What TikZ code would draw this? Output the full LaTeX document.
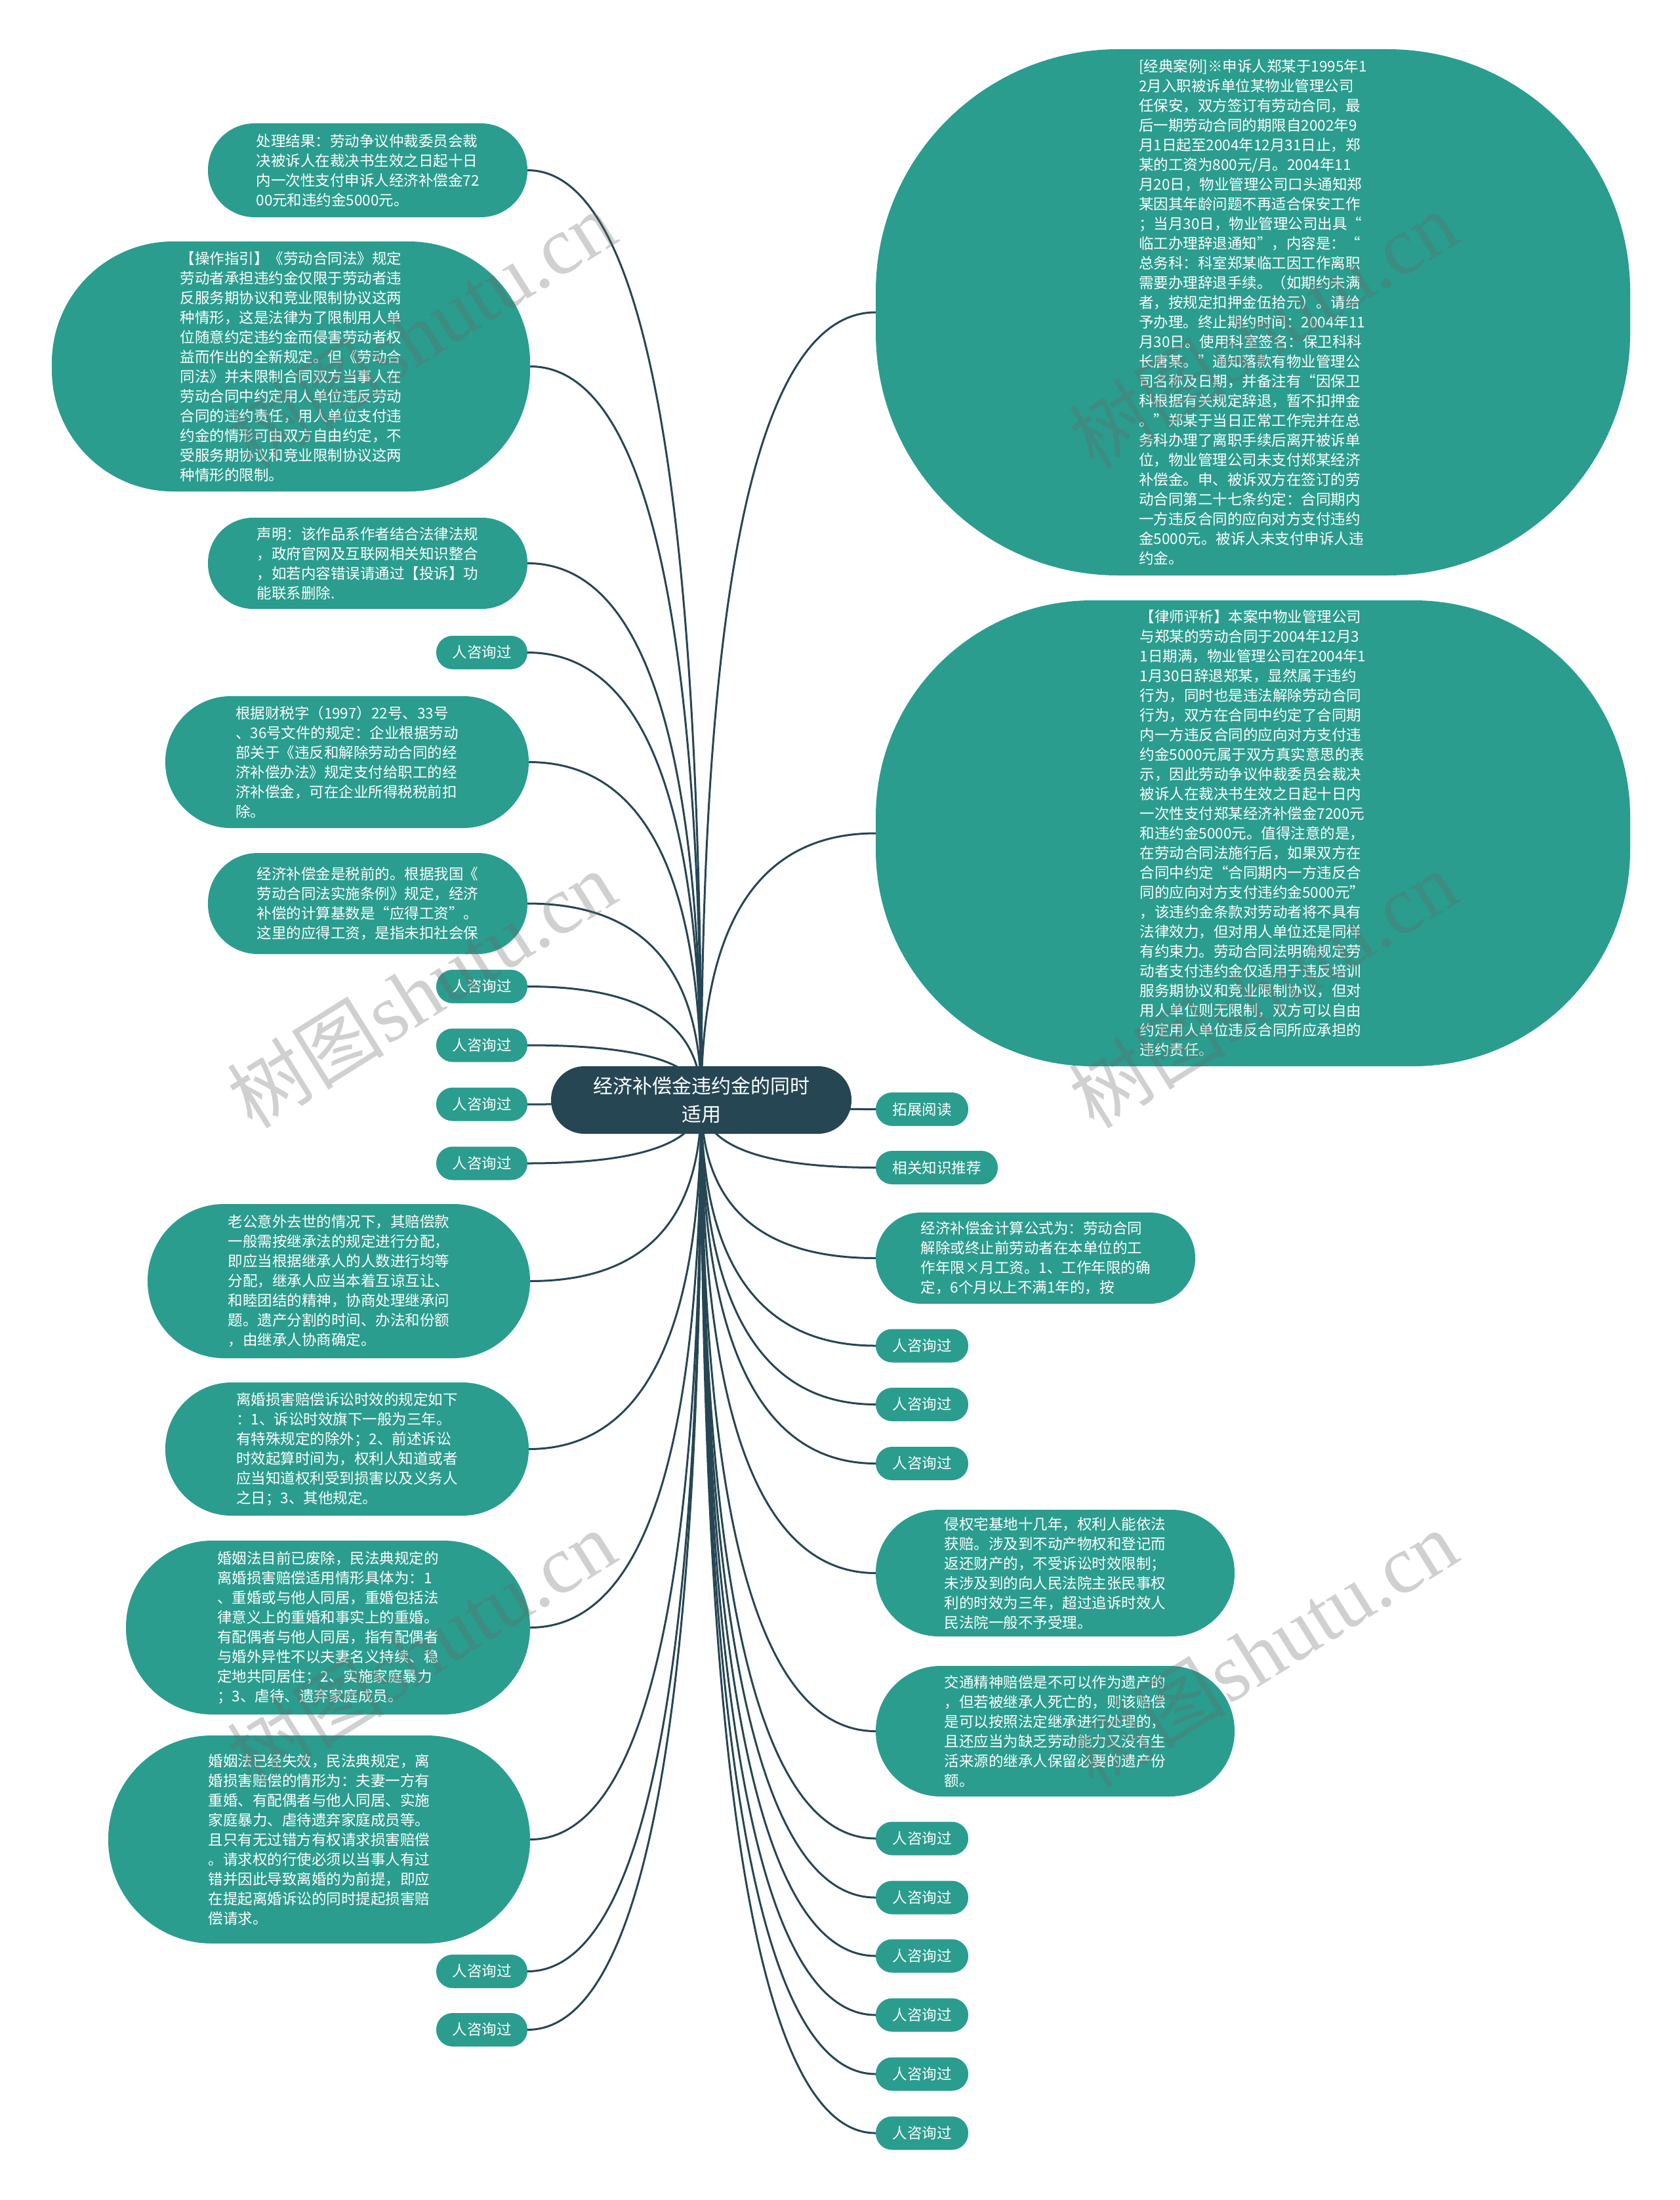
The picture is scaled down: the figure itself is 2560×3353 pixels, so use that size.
\documentclass[tikz,border=0pt]{standalone}
\usepackage{fontspec}
\setmainfont{Noto Sans CJK SC}
\newfontfamily\wmcjk{Noto Sans CJK SC}
\newfontfamily\wmlat{Liberation Serif}
\usetikzlibrary{calc}
\definecolor{rootc}{HTML}{264653}
\definecolor{leafc}{HTML}{2A9D8F}
\definecolor{linec}{HTML}{264653}
\pgfdeclarelayer{bg}
\pgfsetlayers{bg,main}
\tikzset{
  leaf/.style={fill=leafc, text=white, inner sep=0pt, align=left,
    font=\fontsize{22.5}{30}\selectfont},
  rootbox/.style={fill=rootc, text=white, inner sep=0pt, align=center,
    font=\fontsize{30}{43}\selectfont, minimum width=458pt, minimum height=103pt, rounded corners=51pt},
  ask/.style={leaf, minimum width=139pt, minimum height=51pt, rounded corners=25pt},
  conn/.style={draw=linec, line width=3pt},
  wmark/.style={text=black!60, opacity=0.3, rotate=32}
}
\newcommand\connL[1]{%
  \coordinate (k) at (root.center |- #1.east);
  \draw[conn] (root.center) .. controls ($(root.center)!0.6667!(k)$) and ($(#1.east)!0.6667!(k)$) .. (#1.east);}
\newcommand\connR[1]{%
  \coordinate (k) at (root.center |- #1.west);
  \draw[conn] (root.center) .. controls ($(root.center)!0.6667!(k)$) and ($(#1.west)!0.6667!(k)$) .. (#1.west);}
\newcommand\wmk[2]{\node[wmark] (#1) at (#2) {{\wmcjk\fontsize{120}{120}\selectfont 树图} {\wmlat\fontsize{125}{125}\selectfont shutu.cn}};}
\begin{document}
\begin{tikzpicture}[x=1pt,y=-1pt]
\begin{pgfonlayer}{bg}
\fill[white] (0,0) rectangle (2560,3353);
\end{pgfonlayer}
\useasboundingbox (0,0) rectangle (2560,3353);

\node[rootbox] (root) at (1069,1676.5) {经济补偿金违约金的同时\\适用};

% left side
\node[leaf, minimum width=487pt, minimum height=143pt, rounded corners=71pt] (l1) at (560.5,259.5) {处理结果：劳动争议仲裁委员会裁\\决被诉人在裁决书生效之日起十日\\内一次性支付申诉人经济补偿金72\\00元和违约金5000元。};
\node[leaf, minimum width=729pt, minimum height=381pt, rounded corners=185pt] (l2) at (443.5,558.5) {【操作指引】《劳动合同法》规定\\劳动者承担违约金仅限于劳动者违\\反服务期协议和竞业限制协议这两\\种情形，这是法律为了限制用人单\\位随意约定违约金而侵害劳动者权\\益而作出的全新规定。但《劳动合\\同法》并未限制合同双方当事人在\\劳动合同中约定用人单位违反劳动\\合同的违约责任，用人单位支付违\\约金的情形可由双方自由约定，不\\受服务期协议和竞业限制协议这两\\种情形的限制。};
\node[leaf, minimum width=487pt, minimum height=139pt, rounded corners=69pt] (l3) at (560.5,858.5) {声明：该作品系作者结合法律法规\\，政府官网及互联网相关知识整合\\，如若内容错误请通过【投诉】功\\能联系删除.};
\node[ask] (l4) at (734.5,994.5) {人咨询过};
\node[leaf, minimum width=554pt, minimum height=201pt, rounded corners=100pt] (l5) at (529,1161.5) {根据财税字（1997）22号、33号\\、36号文件的规定：企业根据劳动\\部关于《违反和解除劳动合同的经\\济补偿办法》规定支付给职工的经\\济补偿金，可在企业所得税税前扣\\除。};
\node[leaf, minimum width=487pt, minimum height=154pt, rounded corners=76pt] (l6) at (560.5,1377) {经济补偿金是税前的。根据我国《\\劳动合同法实施条例》规定，经济\\补偿的计算基数是“应得工资”。\\这里的应得工资，是指未扣社会保};
\node[ask] (l7) at (734.5,1503.5) {人咨询过};
\node[ask] (l8) at (734.5,1593) {人咨询过};
\node[ask] (l9) at (734.5,1683) {人咨询过};
\node[ask] (l10) at (734.5,1773) {人咨询过};
\node[leaf, minimum width=583pt, minimum height=235pt, rounded corners=117pt] (l11) at (516.5,1952.5) {老公意外去世的情况下，其赔偿款\\一般需按继承法的规定进行分配，\\即应当根据继承人的人数进行均等\\分配，继承人应当本着互谅互让、\\和睦团结的精神，协商处理继承问\\题。遗产分割的时间、办法和份额\\，由继承人协商确定。};
\node[leaf, minimum width=554pt, minimum height=203pt, rounded corners=101pt] (l12) at (529,2208.5) {离婚损害赔偿诉讼时效的规定如下\\：1、诉讼时效旗下一般为三年。\\有特殊规定的除外；2、前述诉讼\\时效起算时间为，权利人知道或者\\应当知道权利受到损害以及义务人\\之日；3、其他规定。};
\node[leaf, minimum width=616pt, minimum height=265pt, rounded corners=132pt] (l13) at (500,2480.5) {婚姻法目前已废除，民法典规定的\\离婚损害赔偿适用情形具体为：1\\、重婚或与他人同居，重婚包括法\\律意义上的重婚和事实上的重婚。\\有配偶者与他人同居，指有配偶者\\与婚外异性不以夫妻名义持续、稳\\定地共同居住；2、实施家庭暴力\\；3、虐待、遗弃家庭成员。};
\node[leaf, minimum width=643pt, minimum height=317pt, rounded corners=158pt] (l14) at (486.5,2803.5) {婚姻法已经失效，民法典规定，离\\婚损害赔偿的情形为：夫妻一方有\\重婚、有配偶者与他人同居、实施\\家庭暴力、虐待遗弃家庭成员等。\\且只有无过错方有权请求损害赔偿\\。请求权的行使必须以当事人有过\\错并因此导致离婚的为前提，即应\\在提起离婚诉讼的同时提起损害赔\\偿请求。};
\node[ask] (l15) at (734.5,3004.5) {人咨询过};
\node[ask] (l16) at (734.5,3093.5) {人咨询过};

% right side
\node[leaf, minimum width=1150pt, minimum height=802pt, rounded corners=370pt] (r1) at (1910,476) {[经典案例]※申诉人郑某于1995年1\\2月入职被诉单位某物业管理公司\\任保安，双方签订有劳动合同，最\\后一期劳动合同的期限自2002年9\\月1日起至2004年12月31日止，郑\\某的工资为800元/月。2004年11\\月20日，物业管理公司口头通知郑\\某因其年龄问题不再适合保安工作\\；当月30日，物业管理公司出具“\\临工办理辞退通知”，内容是：“\\总务科：科室郑某临工因工作离职\\需要办理辞退手续。（如期约未满\\者，按规定扣押金伍拾元）。请给\\予办理。终止期约时间：2004年11\\月30日。使用科室签名：保卫科科\\长唐某。”通知落款有物业管理公\\司名称及日期，并备注有“因保卫\\科根据有关规定辞退，暂不扣押金\\。”郑某于当日正常工作完并在总\\务科办理了离职手续后离开被诉单\\位，物业管理公司未支付郑某经济\\补偿金。申、被诉双方在签订的劳\\动合同第二十七条约定：合同期内\\一方违反合同的应向对方支付违约\\金5000元。被诉人未支付申诉人违\\约金。};
\node[leaf, minimum width=1150pt, minimum height=710pt, rounded corners=330pt] (r2) at (1910,1270) {【律师评析】本案中物业管理公司\\与郑某的劳动合同于2004年12月3\\1日期满，物业管理公司在2004年1\\1月30日辞退郑某，显然属于违约\\行为，同时也是违法解除劳动合同\\行为，双方在合同中约定了合同期\\内一方违反合同的应向对方支付违\\约金5000元属于双方真实意思的表\\示，因此劳动争议仲裁委员会裁决\\被诉人在裁决书生效之日起十日内\\一次性支付郑某经济补偿金7200元\\和违约金5000元。值得注意的是，\\在劳动合同法施行后，如果双方在\\合同中约定“合同期内一方违反合\\同的应向对方支付违约金5000元”\\，该违约金条款对劳动者将不具有\\法律效力，但对用人单位还是同样\\有约束力。劳动合同法明确规定劳\\动者支付违约金仅适用于违反培训\\服务期协议和竞业限制协议，但对\\用人单位则无限制，双方可以自由\\约定用人单位违反合同所应承担的\\违约责任。};
\node[ask, minimum width=141pt] (r3) at (1405.5,1690.5) {拓展阅读};
\node[ask, minimum width=186pt] (r4) at (1428,1779.5) {相关知识推荐};
\node[leaf, minimum width=487pt, minimum height=139pt, rounded corners=69pt] (r5) at (1578.5,1917.5) {经济补偿金计算公式为：劳动合同\\解除或终止前劳动者在本单位的工\\作年限×月工资。1、工作年限的确\\定，6个月以上不满1年的，按};
\node[ask, minimum width=141pt] (r6) at (1405.5,2051) {人咨询过};
\node[ask, minimum width=141pt] (r7) at (1405.5,2140.5) {人咨询过};
\node[ask, minimum width=141pt] (r8) at (1405.5,2230.5) {人咨询过};
\node[leaf, minimum width=547pt, minimum height=193pt, rounded corners=96pt] (r9) at (1608.5,2397.5) {侵权宅基地十几年，权利人能依法\\获赔。涉及到不动产物权和登记而\\返还财产的，不受诉讼时效限制；\\未涉及到的向人民法院主张民事权\\利的时效为三年，超过追诉时效人\\民法院一般不予受理。};
\node[leaf, minimum width=547pt, minimum height=199pt, rounded corners=99pt] (r10) at (1608.5,2638.5) {交通精神赔偿是不可以作为遗产的\\，但若被继承人死亡的，则该赔偿\\是可以按照法定继承进行处理的，\\且还应当为缺乏劳动能力又没有生\\活来源的继承人保留必要的遗产份\\额。};
\node[ask, minimum width=141pt] (r11) at (1405.5,2802) {人咨询过};
\node[ask, minimum width=141pt] (r12) at (1405.5,2892) {人咨询过};
\node[ask, minimum width=141pt] (r13) at (1405.5,2981) {人咨询过};
\node[ask, minimum width=141pt] (r14) at (1405.5,3071) {人咨询过};
\node[ask, minimum width=141pt] (r15) at (1405.5,3161) {人咨询过};
\node[ask, minimum width=141pt] (r16) at (1405.5,3251) {人咨询过};

\begin{pgfonlayer}{bg}
\foreach \n in {l1,l2,l3,l4,l5,l6,l7,l8,l9,l10,l11,l12,l13,l14,l15,l16} {\connL{\n}}
\foreach \n in {r1,r2,r3,r4,r5,r6,r7,r8,r9,r10,r11,r12,r13,r14,r15,r16} {\connR{\n}}
\end{pgfonlayer}

% watermarks
\wmk{w1}{642,503}
\wmk{w2}{1925,503}
\wmk{w3}{642,1508}
\wmk{w4}{1925,1508}
\wmk{w5}{642,2513}
\wmk{w6}{1925,2513}
\end{tikzpicture}
\end{document}
